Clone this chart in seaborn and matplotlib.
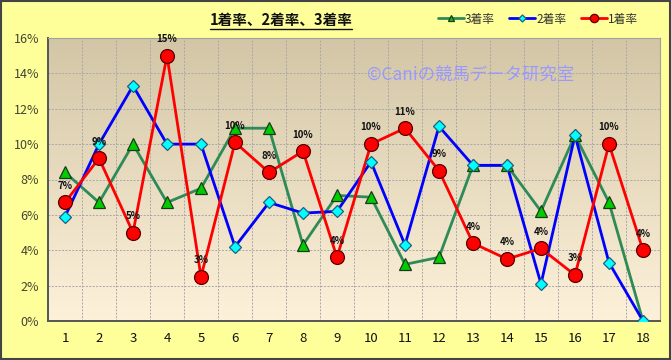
import numpy as np
import pandas as pd
import matplotlib
matplotlib.use("Agg")
import matplotlib.pyplot as plt
import seaborn as sns
from matplotlib.patches import Rectangle
from matplotlib.lines import Line2D

categories = list(range(1, 18 + 1))
rate3 = [8.4, 6.7, 10.0, 6.7, 7.5, 10.9, 10.9, 4.3, 7.1, 7.0, 3.2, 3.6, 8.8, 8.8, 6.2, 10.5, 6.7, 0.0]
rate2 = [5.9, 10.0, 13.3, 10.0, 10.0, 4.2, 6.7, 6.1, 6.2, 9.0, 4.3, 11.0, 8.8, 8.8, 2.1, 10.5, 3.3, 0.0]
rate1 = [6.7, 9.2, 5.0, 15.0, 2.5, 10.1, 8.4, 9.6, 3.6, 10.0, 10.9, 8.5, 4.4, 3.5, 4.1, 2.6, 10.0, 4.0]
labels1 = ["7%", "9%", "5%", "15%", "3%", "10%", "8%", "10%", "4%", "10%", "11%", "9%", "4%", "4%", "4%", "3%", "10%", "4%"]
series_names = ["3着率", "2着率", "1着率"]
yticks = [0, 2, 4, 6, 8, 10, 12, 14, 16]
ytick_labels = ["0%", "2%", "4%", "6%", "8%", "10%", "12%", "14%", "16%"]

sns.set_theme(style="white")
plt.rcParams['font.family'] = ['Noto Sans CJK JP', 'DejaVu Sans']

df = pd.DataFrame({
    "pos": categories * 3,
    "rate": rate3 + rate2 + rate1,
    "series": [series_names[0]] * 18 + [series_names[1]] * 18 + [series_names[2]] * 18,
})

fig = plt.figure(figsize=(6.71, 3.6), dpi=100, facecolor="#FFFF99")
ax = fig.add_axes([48 / 671, 39 / 360, 612 / 671, 283 / 360])

# gradient background
grad = np.linspace(0, 1, 256).reshape(-1, 1)
top = np.array([0xD3, 0xC6, 0xA6]) / 255
bot = np.array([0xFD, 0xF1, 0xDA]) / 255
img = top[None, None, :] * (1 - grad[:, :, None]) + bot[None, None, :] * grad[:, :, None]
ax.imshow(img, extent=[0, 1, 0, 1], transform=ax.transAxes, aspect="auto", zorder=0)

palette = {"3着率": "#2E8B57", "2着率": "#0000FF", "1着率": "#FF0000"}
sns.lineplot(data=df, x="pos", y="rate", hue="series", palette=palette,
             hue_order=series_names, linewidth=2.0, ax=ax, legend=False, zorder=3)

mk = {
    "3着率": dict(marker="^", mfc="#00CC00", mec="#1A3A1A", ms=8),
    "2着率": dict(marker="D", mfc="#00FFFF", mec="#1F5F7F", ms=6),
    "1着率": dict(marker="o", mfc="#FF0000", mec="#5A0000", ms=10),
}
vals = {"3着率": rate3, "2着率": rate2, "1着率": rate1}
for i, name in enumerate(series_names):
    ax.plot(categories, vals[name], linestyle="none", mew=0.9, zorder=4 + i, **mk[name])

for x, y, t in zip(categories, rate1, labels1):
    ax.annotate(t, (x, y), xytext=(0, 12), textcoords="offset points",
                ha="center", va="center", fontsize=7, fontweight="bold",
                color="#111111", zorder=10)

ax.set_xlim(0.5, 18.5)
ax.set_ylim(0, 16)
ax.set_yticks(yticks)
ax.set_yticklabels(ytick_labels, fontsize=9, color="#444433")
ax.set_xticks(np.arange(0.5, 19, 1))
ax.set_xticklabels([])
ax.set_xticks(categories, minor=True)
ax.set_xticklabels([str(c) for c in categories], minor=True, fontsize=9.5, color="#111111")
ax.tick_params(axis="x", which="major", direction="in", length=4, color="#555555", width=1)
ax.tick_params(axis="x", which="minor", length=0, pad=8)
ax.tick_params(axis="y", direction="inout", length=5, color="#555555", width=1, pad=4)
ax.set_xlabel("")
ax.set_ylabel("")
ax.grid(True, which="major", color="#A8A8A8", linestyle=(0, (2, 1.5)), linewidth=0.7, zorder=1)
ax.set_axisbelow(True)
for s in ["left", "bottom"]:
    ax.spines[s].set_color("#555555")
    ax.spines[s].set_linewidth(1.4)
for s in ["top", "right"]:
    ax.spines[s].set_color("#A0A0A0")
    ax.spines[s].set_linewidth(0.8)

ax.text(0.691, 0.87, "©Caniの競馬データ研究室", transform=ax.transAxes, fontsize=12.5,
        color="#9999FF", ha="center", va="center", zorder=2)

# title with underline
title = fig.text(281 / 671, 1 - 20 / 360, "1着率、2着率、3着率", ha="center", va="center",
                 fontsize=10.5, fontweight="bold", color="#111111")
fig.canvas.draw()
bb = title.get_window_extent().transformed(fig.transFigure.inverted())
fig.add_artist(Line2D([bb.x0, bb.x1], [bb.y0 - 0.004, bb.y0 - 0.004],
                      transform=fig.transFigure, color="#111111", lw=1.0))

handles = [Line2D([], [], color=palette[n], lw=2.0, mew=0.9,
                  **{k: (v * 0.6 if k == "ms" else v) for k, v in mk[n].items()})
           for n in series_names]
fig.legend(handles, series_names, loc="center", bbox_to_anchor=(538 / 671, 1 - 19 / 360),
           ncol=3, frameon=False, fontsize=8.5, handlelength=2.2, columnspacing=1.2,
           handletextpad=0.1, labelcolor="#333333")

fig.add_artist(Rectangle((0.001, 0.002), 0.997, 0.996, transform=fig.transFigure,
                         fill=False, edgecolor="#444444", lw=1.5))

fig.savefig("out.png", dpi=100, facecolor=fig.get_facecolor())
